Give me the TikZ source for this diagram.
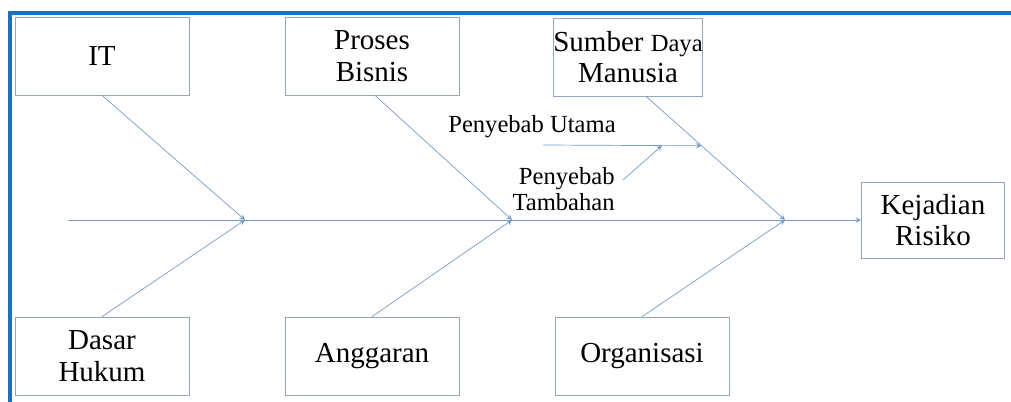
\documentclass[tikz,border=0pt]{standalone}
\usepackage{fontspec}
\setmainfont{Liberation Serif}
\usetikzlibrary{calc}
\definecolor{bone}{RGB}{120,156,200}
\definecolor{boxline}{RGB}{150,165,185}
\definecolor{frameblue}{RGB}{32,110,190}

\begin{document}
\begin{tikzpicture}[>=stealth, x=0.02cm, y=-0.02cm, semithick,
    box/.style={draw=boxline, thin, minimum width=3.48cm, minimum height=1.56cm, align=center, font=\fontsize{16.5}{18}\selectfont},
    bone/.style={draw=bone, thin, ->, shorten >=0pt}]
        \useasboundingbox (0,0) rectangle (1011,402);
        \draw[frameblue, line width=2.2pt] (1011,13) -- (10,13) -- (10,402);
        % kategori penyebab
		\node[box] (1) at (102,56) {IT};
		\node[box] (2) at (372,56) {Proses\\Bisnis};
		\node[box, minimum width=2.88cm, inner xsep=0pt] (3) at (628,57) {Sumber {\fontsize{14}{18}\selectfont Daya}\\Manusia};
		\node[box] (4) at (102,356) {Dasar\\Hukum};
		\node[box] (5) at (372,356) {Anggaran};
		\node[box] (6) at (642,356) {Organisasi};
		\node[box, minimum width=2.86cm, minimum height=1.52cm] (7) at (933,220) {Kejadian\\Risiko};
		% tulang utama
		\coordinate (8) at (68,220);
		\coordinate (9) at (245,220);
		\coordinate (10) at (512,220);
		\coordinate (11) at (785,220);
		\coordinate (12) at ([xshift=0.36cm]3.south);
		\draw[bone] (8) to (7.west);
		\draw[bone] (1.south) to (9);
		\draw[bone] (4.north) to (9);
		\draw[bone] ([xshift=0.06cm]2.south) to (10);
		\draw[bone] (5.north) to (10);
		\draw[bone] (12) to (11);
		\draw[bone] (6.north) to (11);
		% penyebab utama / tambahan
		\coordinate (13) at (543,145);
		\coordinate (14) at ($(12)!0.4!(11)$);
		\coordinate (15) at ($(13)!0.75!(14)$);
		\coordinate (16) at (623,180);
		\draw[bone] (13) to (14);
		\draw[bone] (16) to (15);
		\node[font=\fontsize{14}{15}\selectfont] (17) at (532,127) {Penyebab Utama};
		\node[font=\fontsize{14}{15}\selectfont, align=right, anchor=east] (18) at (621,189) {Penyebab\\Tambahan};
    \end{tikzpicture}
\end{document}
